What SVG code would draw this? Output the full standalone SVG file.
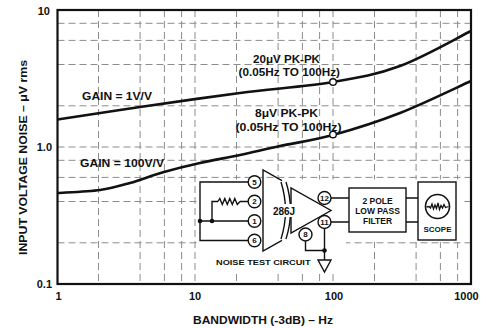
<svg xmlns="http://www.w3.org/2000/svg" width="486" height="328" viewBox="0 0 486 328">
<style>
text{font-family:"Liberation Sans",Arial,sans-serif;font-weight:bold;fill:#111}
.grid{stroke:#8c8c8c;stroke-width:1;stroke-dasharray:7 4;fill:none}
.frame{stroke:#111;stroke-width:2.2;fill:none}
.curve{stroke:#111;stroke-width:2.6;fill:none}
.w{stroke:#111;stroke-width:1.4;fill:none}
.pin{stroke:#111;stroke-width:1.4;fill:#fff}
.pt{font-size:8px;text-anchor:middle}
.tk{font-size:11px}
.dot{fill:#111}
</style>
<rect width="486" height="328" fill="#fff"/>
<g id="grid">
<path class="grid" d="M98.5,10V284M140.1,10V284M164.4,10V284M181.6,10V284M195,10V284M236.5,10V284M278.1,10V284M302.4,10V284M319.6,10V284M333,10V284M374.5,10V284M416.1,10V284M440.4,10V284M457.6,10V284"/>
<path class="grid" d="M57.5,23.3H471M57.5,40.4H471M57.5,64.5H471M57.5,105.8H471M57.5,147H471M57.5,160.3H471M57.5,177.4H471M57.5,201.5H471M57.5,242.8H471"/>
</g>
<path d="M197,179.5H462V242H346V273H197Z" fill="#fff"/>
<rect id="frame" class="frame" x="57.5" y="10" width="413.5" height="274"/>
<g id="axis-labels">
<text class="tk" x="50" y="14.5" text-anchor="end">10</text>
<text class="tk" x="52" y="151" text-anchor="end">1.0</text>
<text class="tk" x="52" y="288" text-anchor="end">0.1</text>
<text class="tk" x="58.5" y="300" text-anchor="middle">1</text>
<text class="tk" x="195" y="300" text-anchor="middle">10</text>
<text class="tk" x="334" y="300" text-anchor="middle">100</text>
<text class="tk" x="466.5" y="300" text-anchor="middle">1000</text>
<text x="193" y="324" font-size="10" textLength="140" lengthAdjust="spacingAndGlyphs">BANDWIDTH (-3dB) – Hz</text>
<text transform="translate(26.5,157.5) rotate(-90)" font-size="10" text-anchor="middle" textLength="195" lengthAdjust="spacingAndGlyphs">INPUT VOLTAGE NOISE – μV rms</text>
</g>
<g id="curves">
<path id="gain1" class="curve" d="M57.5,119.5C71.25,117.4 109.6,111.4 140,107C170.4,102.6 207.8,97.2 240,93C272.2,88.8 306.3,86.5 333,82C359.7,77.5 377,74.5 400,66C423,57.5 459.2,36.8 471,31"/>
<path id="gain100" class="curve" d="M57.5,193C64.6,192.5 87.9,191.7 100,190C112.1,188.3 119.3,186 130,183C140.7,180 152.3,175.3 164,172C175.7,168.7 187.3,165.8 200,163C212.7,160.2 226.7,157.8 240,155C253.3,152.2 264.5,149.3 280,146C295.5,142.7 313,140.5 333,135C353,129.5 377,122 400,113C423,104 459.2,86.3 471,81"/>
<circle cx="333" cy="82" r="3.3" fill="#fff" stroke="#111" stroke-width="1.4"/>
<circle cx="333" cy="134.5" r="3.3" fill="#fff" stroke="#111" stroke-width="1.4"/>
</g>
<g id="curve-labels">
<text x="82" y="100" font-size="10" textLength="70" lengthAdjust="spacingAndGlyphs">GAIN = 1V/V</text>
<text x="80" y="166.5" font-size="10" textLength="84" lengthAdjust="spacingAndGlyphs">GAIN = 100V/V</text>
<text x="253" y="63" font-size="10" textLength="67" lengthAdjust="spacingAndGlyphs">20μV PK-PK</text>
<text x="238.5" y="76" font-size="10" textLength="101.5" lengthAdjust="spacingAndGlyphs">(0.05Hz TO 100Hz)</text>
<text x="255" y="116.5" font-size="10" textLength="63" lengthAdjust="spacingAndGlyphs">8μV PK-PK</text>
<text x="235.5" y="130.5" font-size="10" textLength="106" lengthAdjust="spacingAndGlyphs">(0.05Hz TO 100Hz)</text>
</g>
<g id="circuit-wires">
<path class="w" d="M248.2,182H200V240.5H248.2M200,221H248.2M212,221V201.5H218M240,201.5H248.2"/>
<path class="w" d="M218,201.5l1.8,-3l2.5,6l2.5,-6l2.5,6l2.5,-6l2.5,6l2.5,-6l2.5,6l2.7,-3"/>
<path class="w" d="M331,198H349M331,222H349M406,198H418M406,222H418"/>
<path class="w" d="M305.5,241V250.5H324.5M324.5,228.5V260"/>
<circle class="dot" cx="200" cy="221" r="2.3"/>
<circle class="dot" cx="212" cy="221" r="2.3"/>
<circle class="dot" cx="324.5" cy="250.5" r="2.3"/>
</g>
<g id="ground">
<path class="w" d="M318,260H331L324.5,272Z"/>
</g>
<g id="amp-286J">
<path class="w" d="M282,180.7L263,170V251L282,240.3"/>
<path class="w" d="M281,182Q290,210.5 281,239M286,182Q295,210.5 286,239"/>
<path class="w" d="M291,188V233L331,210.5Z" fill="#fff"/>
<rect x="272" y="204" width="24" height="13" fill="#fff"/>
<text x="284" y="215" font-size="10" text-anchor="middle">286J</text>
</g>
<g id="pins">
<circle class="pin" cx="254.5" cy="182" r="6.3"/><text class="pt" x="254.5" y="184.9">5</text>
<circle class="pin" cx="254.5" cy="201.5" r="6.3"/><text class="pt" x="254.5" y="204.4">2</text>
<circle class="pin" cx="254.5" cy="221" r="6.3"/><text class="pt" x="254.5" y="223.9">1</text>
<circle class="pin" cx="254.5" cy="240.5" r="6.3"/><text class="pt" x="254.5" y="243.4">6</text>
<circle class="pin" cx="324.5" cy="198" r="6.5"/><text class="pt" x="324.5" y="200.9">12</text>
<circle class="pin" cx="324.5" cy="222" r="6.5"/><text class="pt" x="324.5" y="224.9">11</text>
<circle class="pin" cx="305.5" cy="234.5" r="6.5"/><text class="pt" x="305.5" y="237.4">8</text>
</g>
<g id="filter">
<rect class="w" x="349" y="188" width="57" height="44" fill="#fff"/>
<text x="377.5" y="204.3" font-size="8.5" text-anchor="middle">2 POLE</text>
<text x="377.5" y="214.3" font-size="8.5" text-anchor="middle">LOW PASS</text>
<text x="377.5" y="224.3" font-size="8.5" text-anchor="middle">FILTER</text>
</g>
<g id="scope">
<rect class="w" x="418" y="182" width="38" height="58" fill="#fff"/>
<circle cx="437.5" cy="206.5" r="12" fill="none" stroke="#111" stroke-width="1.6"/>
<path d="M426.5,207L429,206.5L430.5,208L432,204L433.5,209L435,205L436.5,208.5L438,203L439.5,209.5L441,205.5L442.5,208L444,204.5L445.5,207.5L448.5,206.5" fill="none" stroke="#111" stroke-width="1.3"/>
<text x="437.5" y="232.3" font-size="8" text-anchor="middle">SCOPE</text>
</g>
<text id="circuit-caption" x="216" y="264.5" font-size="8" textLength="94.5" lengthAdjust="spacingAndGlyphs">NOISE TEST CIRCUIT</text>
</svg>
